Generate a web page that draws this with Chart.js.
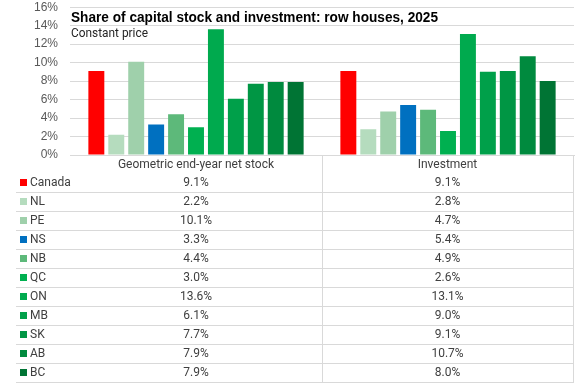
<!DOCTYPE html>
<html>
<head>
<meta charset="utf-8">
<script src="https://cdn.jsdelivr.net/npm/chart.js@4"></script>
<style>
  body { margin: 0; background: #fff; overflow: hidden; }
  #wrap { position: relative; width: 576px; height: 384px; overflow: hidden; font-family: Roboto, "Liberation Sans", sans-serif; color: #404040; }
  #chart { position: absolute; left: 0; top: -12px; }
  #table { position: absolute; left: 0; top: 0; width: 576px; height: 384px; font-size: 12px; }
  .hline { position: absolute; height: 1px; background: #d9d9d9; }
  .vline { position: absolute; width: 1px; background: #d9d9d9; }
  .cell { position: absolute; text-align: center; line-height: 19px; height: 19px; }
  .key { position: absolute; width: 7px; height: 7px; }
  .lab { position: absolute; line-height: 19px; height: 19px; }
</style>
</head>
<body>
<div id="wrap">
  <canvas id="chart" width="576" height="396"></canvas>
  <div id="table"></div>
</div>
<script>
const columns = ['Geometric end-year net stock', 'Investment'];
const regions = ['Canada', 'NL', 'PE', 'NS', 'NB', 'QC', 'ON', 'MB', 'SK', 'AB', 'BC'];
const netStock = [9.1, 2.2, 10.1, 3.3, 4.4, 3.0, 13.6, 6.1, 7.7, 7.9, 7.9];
const investment = [9.1, 2.8, 4.7, 5.4, 4.9, 2.6, 13.1, 9.0, 9.1, 10.7, 8.0];
const yTicks = [0, 2, 4, 6, 8, 10, 12, 14, 16];
const colors = ['#ff0000', '#b5dcbe', '#9fd0ab', '#0070c0', '#5db97a', '#00b050',
                '#00aa4e', '#00a04a', '#009644', '#008a3e', '#007434'];

const title = 'Share of capital stock and investment: row houses, 2025';
const subtitle = 'Constant price';
const canvasShift = 12; // canvas is moved up so the plot can start near the top edge

// title sits inside the plot area, like the Excel original
const titlePlugin = {
  id: 'insideTitle',
  afterDraw(chart) {
    const ctx = chart.ctx;
    ctx.save();
    ctx.fillStyle = '#000';
    ctx.textBaseline = 'alphabetic';
    ctx.font = 'bold 15px "Liberation Sans", sans-serif';
    // squeeze to the narrow width of the Excel font
    const k = 367 / ctx.measureText(title).width;
    ctx.translate(71, 22 + canvasShift);
    ctx.scale(k, 1);
    ctx.fillText(title, 0, 0);
    ctx.restore();
    ctx.save();
    ctx.fillStyle = '#262626';
    ctx.font = '13px Roboto, sans-serif';
    const k2 = 77 / ctx.measureText(subtitle).width;
    ctx.translate(71, 37 + canvasShift);
    ctx.scale(k2, 1);
    ctx.fillText(subtitle, 0, 0);
    ctx.restore();
  }
};

const chart = new Chart(document.getElementById('chart'), {
  type: 'bar',
  data: {
    labels: columns,
    datasets: regions.map((r, i) => ({
      label: r,
      data: [netStock[i], investment[i]],
      backgroundColor: colors[i],
      categoryPercentage: 0.87,
      barPercentage: 0.8
    }))
  },
  options: {
    responsive: false,
    animation: false,
    layout: { padding: { top: 0, right: 2, bottom: 229, left: 0 } },
    plugins: { legend: { display: false }, tooltip: { enabled: false } },
    scales: {
      x: {
        ticks: { display: false },
        grid: { display: false },
        border: { color: '#d9d9d9' },
        afterFit(scale) { scale.height = 0; }
      },
      y: {
        min: 0,
        max: 16,
        afterBuildTicks(scale) { scale.ticks = yTicks.map(v => ({ value: v })); },
        ticks: {
          callback: v => v + '%',
          color: '#595959',
          font: { family: '"Liberation Sans", sans-serif', size: 12 },
          padding: 12
        },
        grid: { color: '#d9d9d9', drawTicks: false },
        border: { display: false },
        afterFit(scale) { scale.width = 70; }
      }
    }
  },
  plugins: [titlePlugin]
});

// data table under the axis, built from the same arrays
const tbl = document.getElementById('table');
const xs = chart.scales.x;
const top0 = Math.round(chart.chartArea.bottom) - canvasShift;
const rowH = 19;
const headH = 18;
const left = 16, right = 573;
const colEdges = [Math.round(xs.left), Math.round((xs.getPixelForValue(0) + xs.getPixelForValue(1)) / 2), right];

function add(cls, style, text) {
  const d = document.createElement('div');
  d.className = cls;
  Object.assign(d.style, style);
  if (text !== undefined) d.textContent = text;
  tbl.appendChild(d);
  return d;
}

columns.forEach((c, j) => {
  add('cell', { left: colEdges[j] + 'px', width: (colEdges[j + 1] - colEdges[j]) + 'px', top: top0 + 'px', lineHeight: headH + 'px' }, c);
});

regions.forEach((r, i) => {
  const y = top0 + headH + i * rowH;
  add('key', { left: '20px', top: (y + 6) + 'px', background: colors[i] });
  add('lab', { left: '30px', top: y + 'px' }, r);
  [netStock[i], investment[i]].forEach((v, j) => {
    add('cell', { left: colEdges[j] + 'px', width: (colEdges[j + 1] - colEdges[j]) + 'px', top: y + 'px' }, v.toFixed(1) + '%');
  });
  add('hline', { left: left + 'px', width: (right - left) + 'px', top: (y + rowH) + 'px' });
});

const bottom = top0 + headH + regions.length * rowH;
[colEdges[1], right].forEach(x => {
  add('vline', { left: x + 'px', top: top0 + 'px', height: (bottom - top0 + 1) + 'px' });
});
</script>
</body>
</html>
